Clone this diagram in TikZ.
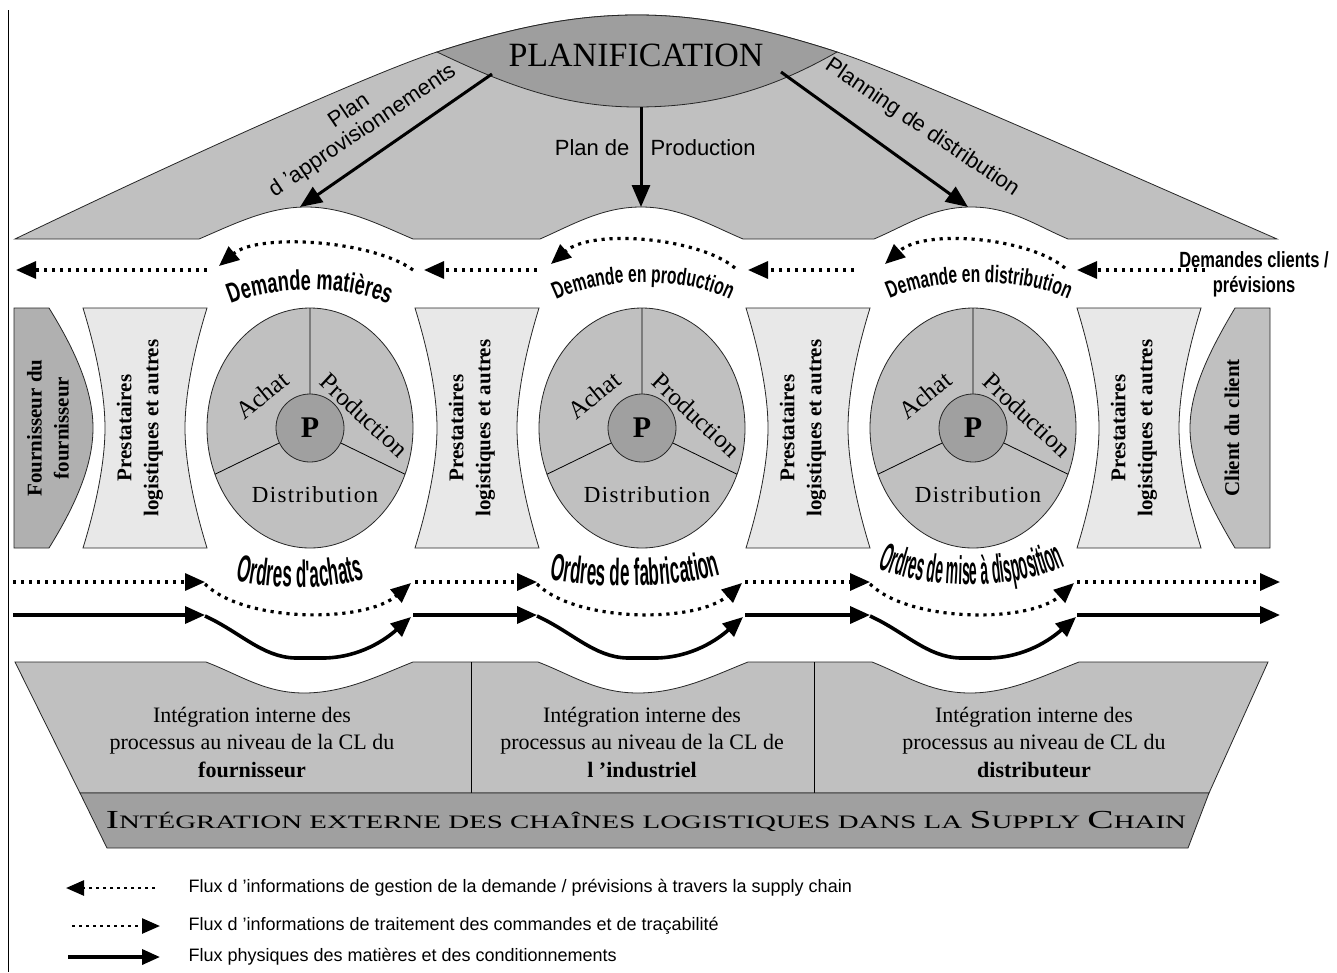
\documentclass[tikz,border=0pt]{standalone}
\usepackage{fontspec}
\usepackage{graphicx}
\setmainfont{Liberation Serif}
\setsansfont{Liberation Sans}
\newfontfamily\condf{Liberation Sans}[FakeStretch=0.75]
\newfontfamily\condg{Liberation Sans}[FakeStretch=0.65]
\newfontfamily\ordA{Liberation Sans}[FakeStretch=0.45]
\newfontfamily\ordB{Liberation Sans}[FakeStretch=0.35]
\newfontfamily\spaced{Liberation Serif}[LetterSpace=6]
\usetikzlibrary{arrows.meta,decorations.text}
\newcommand{\fsz}[2]{\fontsize{#1pt}{#2pt}\selectfont}
\definecolor{topg}{HTML}{C0C0C0}
\definecolor{lensg}{HTML}{9E9E9E}
\definecolor{circg}{HTML}{C0C0C0}
\definecolor{pg}{HTML}{A0A0A0}
\definecolor{prestg}{HTML}{E8E8E8}
\definecolor{fourg}{HTML}{B0B0B0}
\definecolor{clig}{HTML}{C0C0C0}
\definecolor{lowg}{HTML}{C0C0C0}
\definecolor{bandg}{HTML}{A0A0A0}
\tikzset{
  shp/.style={draw=black!85, line width=0.8pt},
  arr/.style={-{Triangle[length=20pt,width=17pt]}},
  smallarr/.style={-{Triangle[length=18pt,width=15pt]}},
  bigarr/.style={line width=3pt, -{Triangle[length=22pt,width=18pt]}},
  dotf/.style={line width=3.2pt, dash pattern=on 3.2pt off 4.8pt},
  solf/.style={line width=3.6pt},
  vtxt/.style={rotate=90, align=center, font=\bfseries\fsz{21}{27}},
  sanslbl/.style={font=\sffamily\fsz{22}{27}},
  lowtxt/.style={align=center, font=\fsz{22}{27.5}},
  legtxt/.style={anchor=west, font=\sffamily\fsz{18}{20}},
}
\newcommand{\prestshape}[1]{%
 \path[shp, fill=prestg, shift={(#1,0)}] (0,308) -- (124,308) .. controls (108,360) and (102,400) .. (102,428) .. controls (102,456) and (108,496) .. (124,548) -- (0,548) .. controls (16,496) and (22,456) .. (22,428) .. controls (22,400) and (16,360) .. (0,308) -- cycle;}
\newcommand{\wheel}[2]{%
 \begin{scope}[shift={(#1,428)}]
  \path[shp, fill=circg] (0,0) ellipse [x radius=103pt, y radius=120pt];
  \begin{scope}
   \clip (0,0) ellipse [x radius=103pt, y radius=120pt];
   \draw[line width=0.8pt] (0,0) -- (0,-130) (0,0) -- (-150,73) (0,0) -- (150,73);
  \end{scope}
  \path[shp, fill=pg] (0,0) circle [radius=34pt];
  \node[font=\bfseries\fsz{30}{30}] (P#2) at (0,0) {P};
  \node[font=\fsz{25}{25}, rotate=39] (ach#2) at (-48,-33) {Achat};
  \node[font=\fsz{25}{25}, rotate=-43] (prod#2) at (54,-13) {Production};
  \node[font=\spaced\fsz{23}{23}] (dist#2) at (5,67) {Distribution};
 \end{scope}}
\begin{document}
\begin{tikzpicture}[x=1pt,y=-1pt]
\useasboundingbox (0,0) rectangle (1337,972);
\fill[white] (0,0) rectangle (1337,972);
% left border
\draw[line width=1pt] (8,10) -- (8,972);

% ---------- top planning shape ----------
\path[shp, fill=topg] (15,239) .. controls (200,150) and (380,70) .. (437,52)
  .. controls (520,25) and (580,15) .. (637,15)
  .. controls (694,15) and (754,25) .. (837,52)
  .. controls (894,70) and (1074,150) .. (1277,239)
  -- (1068,239) .. controls (1035,225) and (1010,207) .. (971,207)
  .. controls (932,207) and (907,225) .. (874,239)
  -- (743,239) .. controls (710,225) and (680,207) .. (641,207)
  .. controls (602,207) and (572,225) .. (540,239)
  -- (413,239) .. controls (380,225) and (345,207) .. (306,207)
  .. controls (267,207) and (232,225) .. (199,239) -- cycle;
\path[shp, fill=lensg] (437,52) .. controls (520,25) and (580,15) .. (637,15)
  .. controls (694,15) and (754,25) .. (837,52)
  .. controls (774,88) and (714,107) .. (637,107)
  .. controls (560,107) and (500,82) .. (437,52) -- cycle;
\node[font=\fsz{34}{34}] (plan) at (636,55) {PLANIFICATION};

\coordinate (pa1) at (492,74);  \coordinate (ta1) at (300,207);
\coordinate (pa2) at (641,107); \coordinate (ta2) at (641,207);
\coordinate (pa3) at (781,72);  \coordinate (ta3) at (968,207);
\draw[bigarr] (pa1) -- (ta1);
\draw[bigarr] (pa2) -- (ta2);
\draw[bigarr] (pa3) -- (ta3);

\node[font=\sffamily\fsz{22}{24}, rotate=34, align=center] (lappro) at (356,121) {Plan\\d 'approvisionnements};
\node[sanslbl, rotate=-34] (ldist) at (922,128) {Planning de distribution};
\node[sanslbl, anchor=east] (lprod1) at (633,148) {Plan de};
\node[sanslbl, anchor=west] (lprod2) at (647,148) {Production};

% ---------- demand flow (top, right to left) ----------
\coordinate (d1s) at (1205,270); \coordinate (d1e) at (1077,270);
\coordinate (d2s) at (1065,268); \coordinate (d2e) at (885,264);
\coordinate (d3s) at (854,270);  \coordinate (d3e) at (748,270);
\coordinate (d4s) at (735,268);  \coordinate (d4e) at (551,264);
\coordinate (d5s) at (537,270);  \coordinate (d5e) at (424,270);
\coordinate (d6s) at (413,270);  \coordinate (d6e) at (219,266);
\coordinate (d7s) at (207,270);  \coordinate (d7e) at (16,270);
\draw[dotf, arr] (d1s) -- (d1e);
\draw[dotf, arr] (d2s) .. controls (1030,238) and (925,228) .. (d2e);
\draw[dotf, arr] (d3s) -- (d3e);
\draw[dotf, arr] (d4s) .. controls (700,238) and (592,228) .. (d4e);
\draw[dotf, arr] (d5s) -- (d5e);
\draw[dotf, arr] (d6s) .. controls (372,240) and (258,233) .. (d6e);
\draw[dotf, arr] (d7s) -- (d7e);

\node[align=center, font=\condf\bfseries\fsz{22}{25}] (dcli) at (1254,274) {Demandes clients /\\prévisions};

\path[decorate, decoration={text along path, text align=center,
  text={|\condg\bfseries\fsz{28}{28}|Demande matières}}]
  (205,320) .. controls (245,280) and (375,280) .. (415,320);
\path[decorate, decoration={text along path, text align=center,
  text={|\condg\bfseries\fsz{24}{24}|Demande en production}}]
  (535,314) .. controls (578,272) and (708,272) .. (751,314);
\path[decorate, decoration={text along path, text align=center,
  text={|\condg\bfseries\fsz{24}{24}|Demande en distribution}}]
  (866,314) .. controls (909,272) and (1049,272) .. (1092,314);

% ---------- middle shapes ----------
\path[shp, fill=fourg] (14,308) -- (49,308) .. controls (75,350) and (93,390) .. (93,428)
  .. controls (93,466) and (75,506) .. (49,548) -- (14,548) -- cycle;
\node[vtxt] (fourn) at (48,428) {Fournisseur du\\fournisseur};

\prestshape{83}
\node[vtxt] (pr1) at (140,428) {Prestataires\\logistiques et autres};
\prestshape{415}
\node[vtxt] (pr2) at (472,428) {Prestataires\\logistiques et autres};
\prestshape{746}
\node[vtxt] (pr3) at (803,428) {Prestataires\\logistiques et autres};
\prestshape{1077}
\node[vtxt] (pr4) at (1134,428) {Prestataires\\logistiques et autres};

\path[shp, fill=clig] (1235,308) -- (1270,308) -- (1270,548) -- (1235,548)
  .. controls (1210,506) and (1190,466) .. (1190,428)
  .. controls (1190,390) and (1210,350) .. (1235,308) -- cycle;
\node[vtxt] (cli) at (1232,428) {Client du client};

\wheel{310}{a}
\wheel{642}{b}
\wheel{973}{c}

% ---------- order flow (dotted) and physical flow (solid) ----------
\coordinate (o1s) at (13,582);   \coordinate (o1e) at (205,582);
\coordinate (o2s) at (205,584);  \coordinate (o2e) at (411,583);
\coordinate (o3s) at (415,582);  \coordinate (o3e) at (537,582);
\coordinate (o4s) at (537,584);  \coordinate (o4e) at (742,583);
\coordinate (o5s) at (745,582);  \coordinate (o5e) at (870,582);
\coordinate (o6s) at (870,584);  \coordinate (o6e) at (1074,583);
\coordinate (o7s) at (1077,582); \coordinate (o7e) at (1280,582);
\draw[dotf, arr] (o1s) -- (o1e);
\draw[dotf, arr] (o2s) .. controls (245,623) and (365,623) .. (o2e);
\draw[dotf, arr] (o3s) -- (o3e);
\draw[dotf, arr] (o4s) .. controls (577,623) and (697,623) .. (o4e);
\draw[dotf, arr] (o5s) -- (o5e);
\draw[dotf, arr] (o6s) .. controls (910,623) and (1030,623) .. (o6e);
\draw[dotf, arr] (o7s) -- (o7e);

\coordinate (f1s) at (13,615);   \coordinate (f1e) at (205,615);
\coordinate (f2s) at (205,616);  \coordinate (f2e) at (411,617);
\coordinate (f3s) at (413,615);  \coordinate (f3e) at (537,615);
\coordinate (f4s) at (537,616);  \coordinate (f4e) at (743,617);
\coordinate (f5s) at (745,615);  \coordinate (f5e) at (870,615);
\coordinate (f6s) at (870,616);  \coordinate (f6e) at (1076,617);
\coordinate (f7s) at (1077,615); \coordinate (f7e) at (1280,615);
\draw[solf, arr] (f1s) -- (f1e);
\draw[solf, arr] (f2s) .. controls (240,632) and (262,657) .. (295,658) -- (325,658) .. controls (360,657) and (385,640) .. (f2e);
\draw[solf, arr] (f3s) -- (f3e);
\draw[solf, arr] (f4s) .. controls (572,632) and (594,657) .. (627,658) -- (657,658) .. controls (692,657) and (717,640) .. (f4e);
\draw[solf, arr] (f5s) -- (f5e);
\draw[solf, arr] (f6s) .. controls (905,632) and (927,657) .. (960,658) -- (990,658) .. controls (1025,657) and (1050,640) .. (f6e);
\draw[solf, arr] (f7s) -- (f7e);

\path[decorate, decoration={text along path, text align=center,
  text={|\ordA\bfseries\fsz{38}{38}|Ordres d'achats}}]
  (215,574) .. controls (260,592) and (340,592) .. (385,572);
\path[decorate, decoration={text along path, text align=center,
  text={|\ordA\bfseries\fsz{38}{38}|Ordres de fabrication}}]
  (535,576) .. controls (585,590) and (685,590) .. (735,570);
\path[decorate, decoration={text along path, text align=center,
  text={|\ordB\bfseries\fsz{40}{40}|Ordres de mise à disposition}}]
  (868,564) .. controls (925,592) and (1015,592) .. (1075,562);

% ---------- bottom ----------
\path[shp, fill=lowg] (15,662) -- (206,662) .. controls (240,675) and (265,693) .. (304,693)
  .. controls (345,693) and (380,675) .. (413,662)
  -- (538,662) .. controls (572,675) and (597,693) .. (638,693)
  .. controls (680,693) and (715,675) .. (748,662)
  -- (872,662) .. controls (905,675) and (930,693) .. (970,693)
  .. controls (1010,693) and (1045,675) .. (1079,662)
  -- (1268,662) -- (1209,793) -- (80,793) -- cycle;
\draw[line width=0.8pt] (471,662) -- (471,793) (814,662) -- (814,793);
\node[lowtxt] (int1) at (252,742) {Intégration interne des\\processus au niveau de la CL du\\\textbf{fournisseur}};
\node[lowtxt] (int2) at (642,742) {Intégration interne des\\processus au niveau de la CL de\\\textbf{l ’industriel}};
\node[lowtxt] (int3) at (1034,742) {Intégration interne des\\processus au niveau de CL du\\\textbf{distributeur}};

\path[shp, fill=bandg] (80,793) -- (1209,793) -- (1188,848) -- (107,848) -- cycle;
\node (band) at (646,821) {\resizebox{1080pt}{\height}{\fsz{19}{19}{\fsz{26}{26}I}NTÉGRATION EXTERNE DES CHAÎNES LOGISTIQUES DANS LA {\fsz{26}{26}S}UPPLY {\fsz{26}{26}C}HAIN}};

% ---------- legend ----------
\coordinate (l1s) at (155,888); \coordinate (l1e) at (66,888);
\coordinate (l2s) at (72,926);  \coordinate (l2e) at (160,926);
\coordinate (l3s) at (68,957);  \coordinate (l3e) at (160,957);
\draw[line width=2.6pt, dash pattern=on 2.6pt off 4.4pt, smallarr] (l1s) -- (l1e);
\draw[line width=2.6pt, dash pattern=on 2.6pt off 4.4pt, smallarr] (l2s) -- (l2e);
\draw[solf, smallarr] (l3s) -- (l3e);
\node[legtxt] (lg1) at (185,888) {Flux d 'informations de gestion de la demande / prévisions à travers la supply chain};
\node[legtxt] (lg2) at (185,926) {Flux d 'informations de traitement des commandes et de traçabilité};
\node[legtxt] (lg3) at (185,957) {Flux physiques des matières et des conditionnements};
\end{tikzpicture}
\end{document}
